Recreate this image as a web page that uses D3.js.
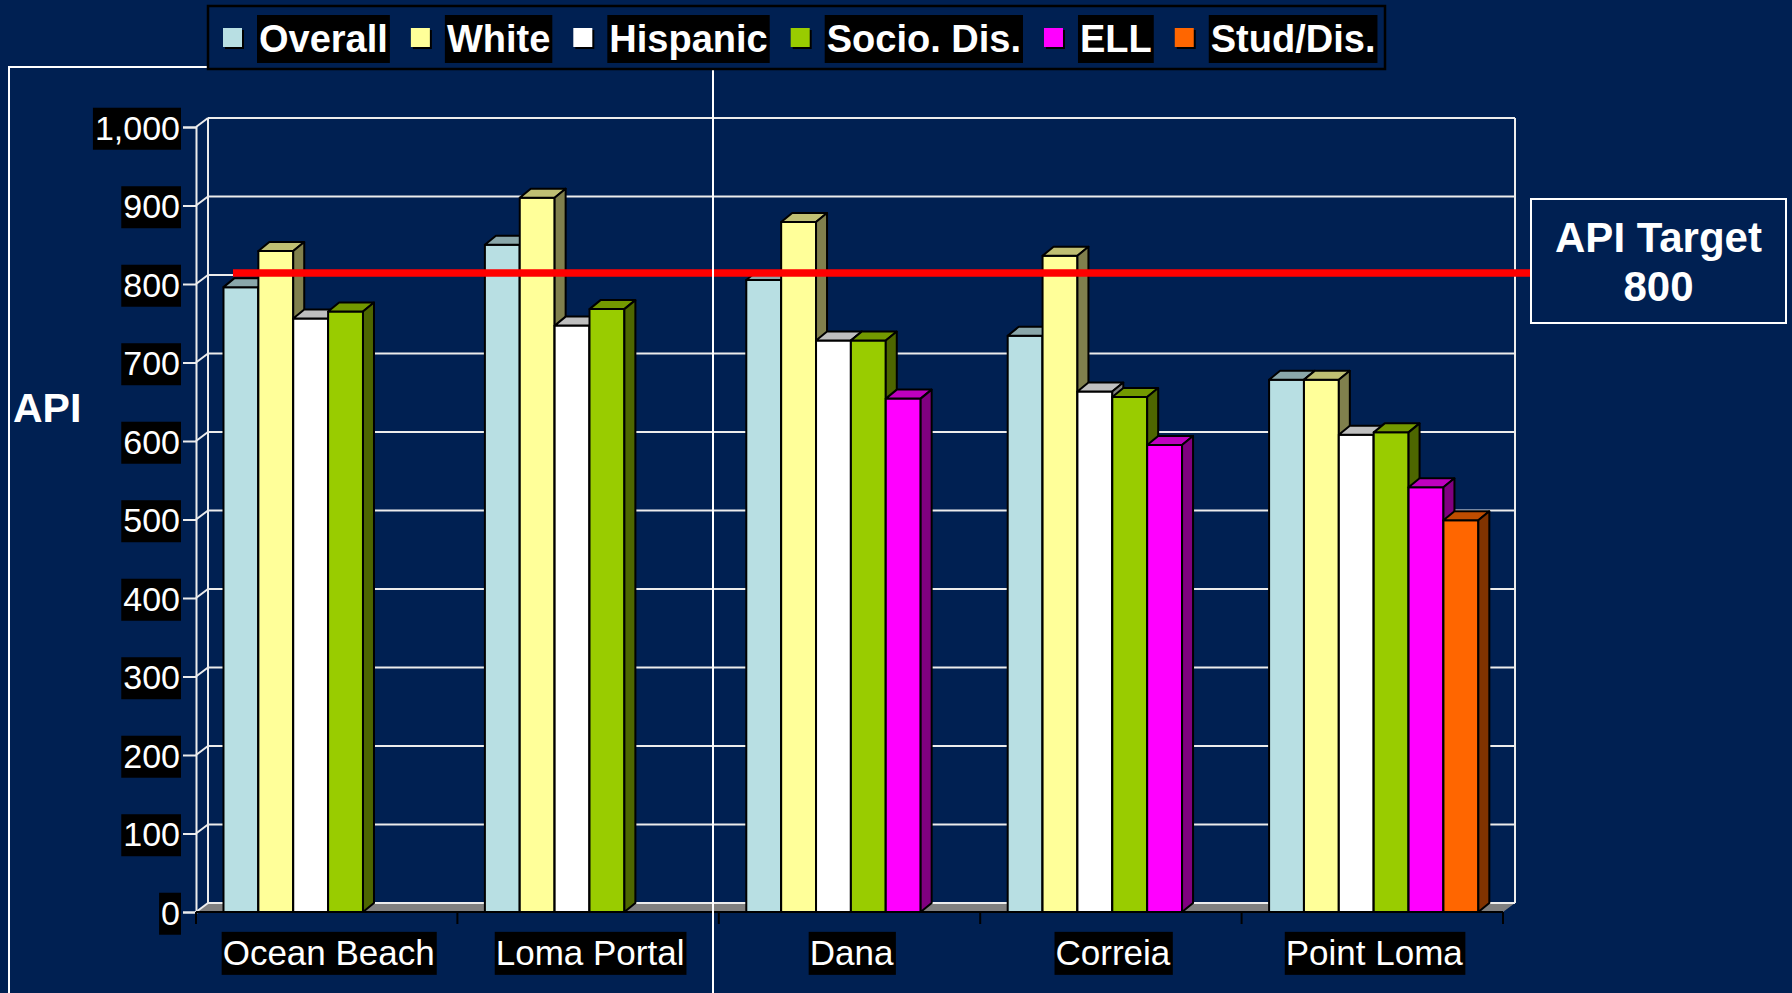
<!DOCTYPE html>
<html><head><meta charset="utf-8">
<script src="https://cdn.jsdelivr.net/npm/d3@7"></script>
<style>html,body{margin:0;padding:0;background:#002052;overflow:hidden}
text{font-family:"Liberation Sans",Arial,sans-serif}</style>
</head><body><svg id="c" width="1792" height="993"></svg>
<script>
// ---- data ----
const categories = ["Ocean Beach", "Loma Portal", "Dana", "Correia", "Point Loma"];
const seriesNames = ["Overall", "White", "Hispanic", "Socio. Dis.", "ELL", "Stud/Dis."];
const overall  = [796, 850, 805, 734, 678];
const white    = [842, 910, 879, 836, 678];
const hispanic = [756, 747, 728, 663, 608];
const socioDis = [765, 768, 728, 656, 611];
const ell      = [null, null, 654, 595, 541];
const studDis  = [null, null, null, null, 499];
const yTicks = [0, 100, 200, 300, 400, 500, 600, 700, 800, 900, 1000];
const targetValue = 800;
const targetLines = ["API Target", "800"];
const yTitle = "API";

// ---- styles ----
const seriesColors = ["#B8DFE3", "#FFFF99", "#FFFFFF", "#99CC00", "#FF00FF", "#FF6600"];
const seriesValues = [overall, white, hispanic, socioDis, ell, studDis];

const svg = d3.select("#c");
const W = 1792, H = 993;
svg.append("rect").attr("width", W).attr("height", H).attr("fill", "#002052");

const y = d3.scaleLinear().domain([0, 1000]).range([912, 127]);
const x0 = d3.scaleBand().domain(categories).range([196, 1503]).paddingInner(0).paddingOuter(0);
const x1 = d3.scaleBand().domain(seriesNames).range([0, x0.bandwidth()])
  .paddingInner(0).paddingOuter(0.748).align(0.527);

const WX = 12, WY = 9;   // wall depth
const BX = 11, BY = 9;   // bar depth
const left = x0.range()[0], right = x0.range()[1];
const gridCol = "#ececec";

// floor
const floorG = svg.append("g");
floorG.append("polygon")
  .attr("points", [[left, y(0)], [right, y(0)], [right + WX, y(0) - WY], [left + WX, y(0) - WY]].join(" "))
  .attr("fill", "#808080");

// back wall gridlines
const grid = svg.append("g").attr("stroke", gridCol).attr("stroke-width", 2).attr("fill", "none");
yTicks.forEach(t => {
  grid.append("line").attr("x1", left + WX).attr("x2", right + WX)
    .attr("y1", y(t) - WY).attr("y2", y(t) - WY);
  grid.append("line").attr("x1", left).attr("x2", left + WX)
    .attr("y1", y(t)).attr("y2", y(t) - WY);
});
grid.append("line").attr("x1", left + WX).attr("x2", left + WX).attr("y1", y(0) - WY).attr("y2", y(1000) - WY);
grid.append("line").attr("x1", right + WX).attr("x2", right + WX).attr("y1", y(0) - WY).attr("y2", y(1000) - WY);

// y axis
const yAxis = svg.append("g").attr("transform", `translate(${left},0)`)
  .call(d3.axisLeft(y).tickValues(yTicks).tickFormat(d3.format(",")).tickSize(13).tickPadding(3));
yAxis.select(".domain").attr("stroke", gridCol).attr("stroke-width", 2);
yAxis.selectAll(".tick line").attr("stroke", gridCol).attr("stroke-width", 2);
yAxis.selectAll(".tick text").attr("fill", "#fff").attr("font-size", 34).attr("dy", "0.36em");
yAxis.selectAll(".tick").each(function () {
  const g = d3.select(this), t = g.select("text"), b = t.node().getBBox();
  g.insert("rect", "text").attr("x", b.x - 2).attr("y", b.y - 1).attr("width", b.width + 3).attr("height", b.height + 4).attr("fill", "#000");
});

// x axis (front floor edge)
svg.append("line").attr("x1", left).attr("x2", right).attr("y1", y(0)).attr("y2", y(0))
  .attr("stroke", "#000").attr("stroke-width", 2);
const bounds = categories.map(c => x0(c)).concat([right]);
svg.append("g").selectAll("line").data(bounds).join("line")
  .attr("x1", d => d).attr("x2", d => d).attr("y1", y(0)).attr("y2", y(0) + 12)
  .attr("stroke", "#000").attr("stroke-width", 2);

const xAxis = svg.append("g").attr("transform", `translate(0,${y(0)})`)
  .call(d3.axisBottom(x0).tickSize(0).tickPadding(28));
xAxis.select(".domain").remove();
xAxis.selectAll(".tick text").attr("fill", "#fff").attr("font-size", 35).attr("dx", 2);
xAxis.selectAll(".tick").each(function () {
  const g = d3.select(this), t = g.select("text"), b = t.node().getBBox();
  g.insert("rect", "text").attr("x", b.x - 1).attr("y", b.y - 1).attr("width", b.width + 3).attr("height", b.height + 4).attr("fill", "#000");
});

// bars
const shade = (c, k) => { const r = d3.rgb(c); return d3.rgb(r.r * k, r.g * k, r.b * k).formatHex(); };
const barsG = svg.append("g").attr("stroke", "#000").attr("stroke-width", 2).attr("stroke-linejoin", "round");
categories.forEach((cat, ci) => {
  seriesNames.forEach((s, si) => {
    const v = seriesValues[si][ci];
    if (v == null) return;
    const xa = x0(cat) + x1(s), xb = xa + x1.bandwidth();
    const yt = y(v), yb = y(0);
    const col = seriesColors[si];
    const g = barsG.append("g");
    g.append("rect").attr("x", xa).attr("y", yt).attr("width", xb - xa).attr("height", yb - yt).attr("fill", col);
    g.append("polygon").attr("points", [[xa, yt], [xb, yt], [xb + BX, yt - BY], [xa + BX, yt - BY]].join(" "))
      .attr("fill", shade(col, 0.75));
    g.append("polygon").attr("points", [[xb, yt], [xb + BX, yt - BY], [xb + BX, yb - BY], [xb, yb]].join(" "))
      .attr("fill", shade(col, 0.5));
  });
});

// target line
const boxL = 1531, boxR = 1786, boxT = 199, boxB = 323;
svg.append("line").attr("x1", 233).attr("x2", boxL).attr("y1", y(targetValue) - 11).attr("y2", y(targetValue) - 11)
  .attr("stroke", "#FF0000").attr("stroke-width", 7.5);
svg.append("rect").attr("x", boxL).attr("y", boxT).attr("width", boxR - boxL).attr("height", boxB - boxT)
  .attr("fill", "#002052").attr("stroke", "#fff").attr("stroke-width", 2);
svg.append("g").selectAll("text").data(targetLines).join("text")
  .attr("x", (boxL + boxR) / 2).attr("y", (d, i) => 252 + i * 49)
  .attr("text-anchor", "middle").attr("fill", "#fff").attr("font-weight", "bold").attr("font-size", 42)
  .text(d => d);

// y title
svg.append("text").attr("x", 13).attr("y", 422).attr("fill", "#fff").attr("font-weight", "bold")
  .attr("font-size", 41).text(yTitle);

// decorative frame
svg.append("rect").attr("x", 9).attr("y", 67).attr("width", 704).attr("height", 1000)
  .attr("fill", "none").attr("stroke", "#fff").attr("stroke-width", 2);

// legend
const leg = svg.append("g");
leg.append("rect").attr("x", 208).attr("y", 6).attr("width", 1177).attr("height", 63)
  .attr("fill", "#002052").attr("stroke", "#000").attr("stroke-width", 2.5);
let lx = 223;
seriesNames.forEach((s, i) => {
  leg.append("rect").attr("x", lx + 2).attr("y", 30).attr("width", 19).attr("height", 19).attr("fill", "#000");
  leg.append("rect").attr("x", lx).attr("y", 28).attr("width", 19).attr("height", 19).attr("fill", seriesColors[i]);
  const bg = leg.append("rect").attr("fill", "#000");
  const t = leg.append("text").attr("x", lx + 36).attr("y", 52).attr("fill", "#fff")
    .attr("font-weight", "bold").attr("font-size", 38).text(s);
  const w = t.node().getComputedTextLength();
  bg.attr("x", lx + 34).attr("y", 15).attr("width", w + 4).attr("height", 48);
  lx = lx + 34 + w + 4 + 21;
});
</script></body></html>
